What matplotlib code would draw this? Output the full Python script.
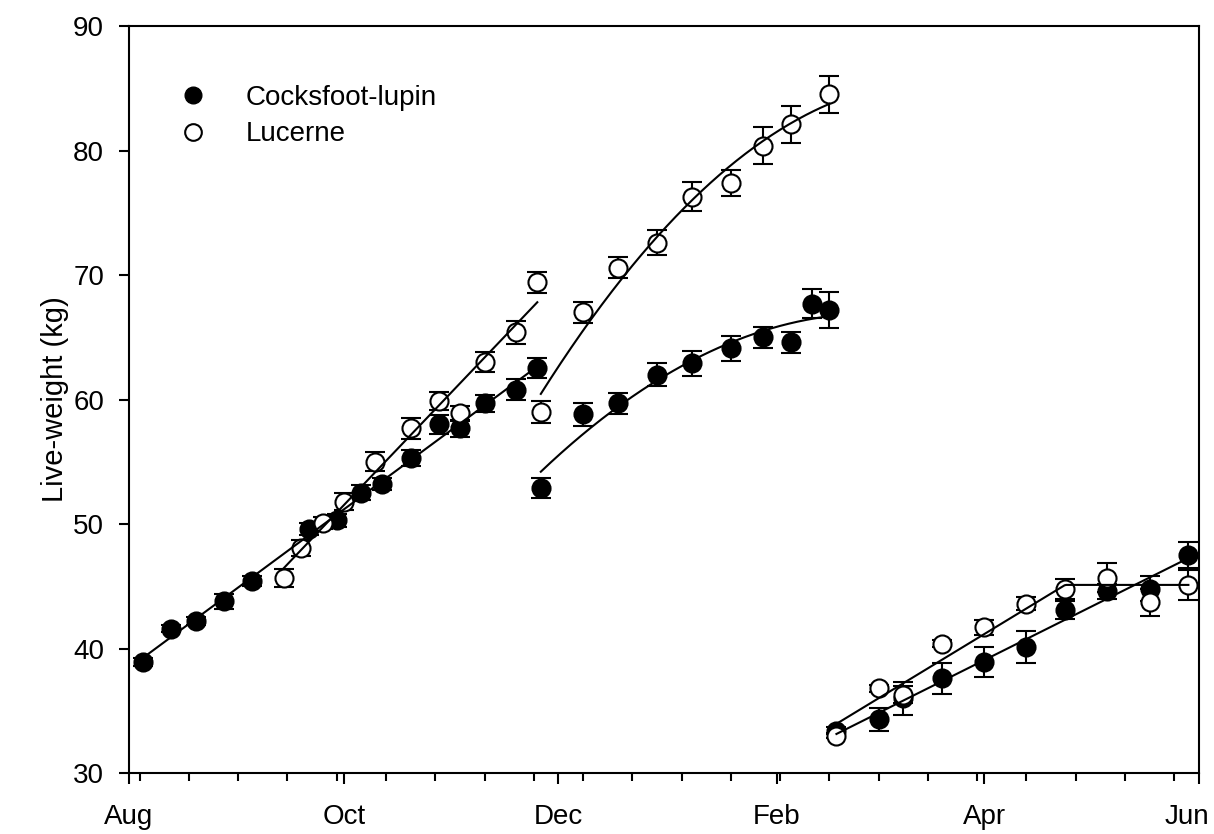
import numpy as np
import matplotlib.pyplot as plt
import matplotlib.dates as mdates
from matplotlib.lines import Line2D
from matplotlib.transforms import ScaledTranslation

plt.rcParams['font.family'] = ['Liberation Sans', 'DejaVu Sans']

# Cocksfoot-lupin: live-weight (kg) and s.e.m., three grazing periods
cl1_dates = ['2014-08-05', '2014-08-13', '2014-08-20', '2014-08-28', '2014-09-05',
             '2014-09-21', '2014-09-29', '2014-10-06', '2014-10-12', '2014-10-20',
             '2014-10-28', '2014-11-03', '2014-11-10', '2014-11-19', '2014-11-25']
cl1_kg = [38.9, 41.6, 42.2, 43.8, 45.4, 49.6, 50.3, 52.5, 53.2, 55.3, 58.0, 57.7, 59.7, 60.8, 62.5]
cl1_se = [0.3, 0.3, 0.3, 0.6, 0.4, 0.5, 0.5, 0.6, 0.5, 0.63, 0.73, 0.67, 0.7, 0.87, 0.8]

cl2_dates = ['2014-11-26', '2014-12-08', '2014-12-18', '2014-12-29', '2015-01-08',
             '2015-01-19', '2015-01-28', '2015-02-05', '2015-02-11', '2015-02-16']
cl2_kg = [52.9, 58.8, 59.7, 62.0, 62.9, 64.1, 65.0, 64.6, 67.7, 67.2]
cl2_se = [0.83, 0.95, 0.85, 0.94, 1.0, 1.0, 0.85, 0.83, 1.15, 1.47]

cl3_dates = ['2015-02-18', '2015-03-02', '2015-03-09', '2015-03-20', '2015-04-01',
             '2015-04-13', '2015-04-24', '2015-05-06', '2015-05-18', '2015-05-29']
cl3_kg = [33.4, 34.3, 36.0, 37.6, 38.9, 40.1, 43.1, 44.6, 44.8, 47.5]
cl3_se = [0.3, 0.9, 1.3, 1.25, 1.2, 1.3, 0.75, 0.6, 1.0, 1.07]

# Lucerne
lu1_dates = ['2014-09-14', '2014-09-19', '2014-09-25', '2014-10-01', '2014-10-10',
             '2014-10-20', '2014-10-28', '2014-11-03', '2014-11-10', '2014-11-19',
             '2014-11-25']
lu1_kg = [45.7, 48.1, 50.1, 51.8, 55.0, 57.7, 59.9, 58.9, 63.0, 65.4, 69.4]
lu1_se = [0.72, 0.65, 0.5, 0.67, 0.75, 0.85, 0.72, 0.6, 0.8, 0.92, 0.83]

lu2_dates = ['2014-11-26', '2014-12-08', '2014-12-18', '2014-12-29', '2015-01-08',
             '2015-01-19', '2015-01-28', '2015-02-05', '2015-02-16']
lu2_kg = [59.0, 67.0, 70.6, 72.6, 76.3, 77.4, 80.4, 82.1, 84.5]
lu2_se = [0.85, 0.87, 0.87, 1.0, 1.14, 1.07, 1.45, 1.47, 1.47]

lu3_dates = ['2015-02-18', '2015-03-02', '2015-03-09', '2015-03-20', '2015-04-01',
             '2015-04-13', '2015-04-24', '2015-05-06', '2015-05-18', '2015-05-29']
lu3_kg = [33.0, 36.8, 36.3, 40.4, 41.7, 43.6, 44.8, 45.7, 43.7, 45.1]
lu3_se = [0.2, 0.3, 0.7, 0.3, 0.63, 0.5, 0.8, 1.18, 1.1, 1.2]
lu3_break = '2015-04-24'   # growth plateau in the last period


def fit_curve(dates, kg, deg=1, brk=None):
    x = mdates.datestr2num(dates)
    xs = np.linspace(x[0], x[-1], 200)
    if brk is None:
        c = np.polyfit(x - x[0], kg, deg)
        return xs, np.polyval(c, xs - x[0])
    # broken-stick: linear up to the break point, flat after it
    b = mdates.datestr2num(brk)
    c = np.polyfit(np.minimum(x, b), kg, 1)
    return xs, np.polyval(c, np.minimum(xs, b))


fig, ax = plt.subplots(figsize=(12.14, 8.34), dpi=100)
fig.subplots_adjust(left=0.1063, right=0.9876, top=0.9688, bottom=0.0731)

groups = [
    (cl1_dates, cl1_kg, cl1_se, 'k', 3, dict(deg=1)),
    (cl2_dates, cl2_kg, cl2_se, 'k', 3, dict(deg=2)),
    (cl3_dates, cl3_kg, cl3_se, 'k', 3, dict(deg=1)),
    (lu1_dates, lu1_kg, lu1_se, 'white', 4, dict(deg=1)),
    (lu2_dates, lu2_kg, lu2_se, 'white', 4, dict(deg=2)),
    (lu3_dates, lu3_kg, lu3_se, 'white', 4, dict(brk=lu3_break)),
]
for dates, kg, se, face, z, fit in groups:
    x = mdates.datestr2num(dates)
    ax.errorbar(x, kg, yerr=se, fmt='none', ecolor='k', elinewidth=1.5,
                capsize=7, capthick=1.5, zorder=2)
    ax.plot(x, kg, 'o', ms=13, mfc=face, mec='k', mew=1.5, zorder=z)
    xs, ys = fit_curve(dates, kg, **fit)
    ax.plot(xs, ys, 'k-', lw=1.5, zorder=5)

ax.set_xlim(mdates.datestr2num('2014-08-01'), mdates.datestr2num('2015-06-01'))
ax.set_ylim(30, 90)
ax.set_yticks(np.arange(30, 91, 10))
ax.xaxis.set_major_locator(mdates.MonthLocator(bymonth=[8, 10, 12, 2, 4, 6]))
ax.xaxis.set_major_formatter(mdates.DateFormatter('%b'))
# fortnightly minor ticks
minor = np.arange(mdates.datestr2num('2014-08-04'), mdates.datestr2num('2015-06-01'), 14)
ax.set_xticks(minor, minor=True)

for s in ax.spines.values():
    s.set_linewidth(1.5)
ax.tick_params(axis='both', which='major', labelsize=20, width=1.5)
ax.tick_params(axis='y', length=7, pad=11)
ax.tick_params(axis='x', which='major', length=8, pad=14)
ax.tick_params(axis='x', which='minor', length=5.5, width=1.5)
ax.set_ylabel('Live-weight (kg)', fontsize=21, labelpad=3)

# keep the last month label inside the figure
fig.canvas.draw()
last = ax.get_xticklabels()[-1]
last.set_transform(last.get_transform() + ScaledTranslation(-0.12, 0, fig.dpi_scale_trans))

handles = [Line2D([], [], ls='none', marker='o', ms=12, mfc='k', mec='k'),
           Line2D([], [], ls='none', marker='o', ms=12, mfc='white', mec='k', mew=1.5)]
ax.legend(handles, ['Cocksfoot-lupin', 'Lucerne'], loc='upper left',
          bbox_to_anchor=(0.034, 0.921), frameon=False, fontsize=20,
          borderpad=0, borderaxespad=0, handlelength=2, handletextpad=0.9,
          labelspacing=0.37)

plt.savefig('out.png', dpi=100)
